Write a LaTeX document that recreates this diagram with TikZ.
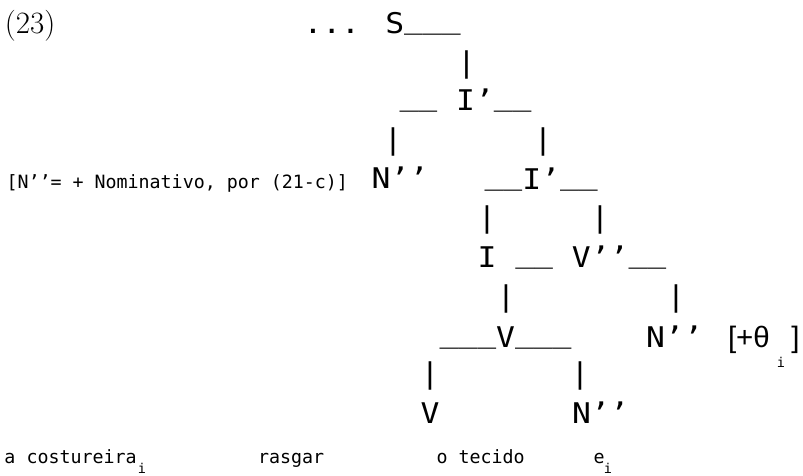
\documentclass[tikz,border=0pt]{standalone}
\usepackage{fontspec}
% Tree labels and branches: a wide monospaced face
\newfontfamily\treefont[FakeStretch=1.1]{DejaVu Sans Mono}
% Notes and the words of the sentence
\newfontfamily\notefont{DejaVu Sans Mono}
% Feature bracket
\newfontfamily\featfont{Liberation Sans}
% underscore branch piece, sitting just under the baseline
\newcommand\brn{\raisebox{4.5pt}{\_}}
\begin{document}
\begin{tikzpicture}[x=1pt,y=-1pt,
  cat/.style={font=\treefont\fontsize{28.5}{30}\selectfont, inner sep=0pt, outer sep=0pt, anchor=base west},
  bar/.style={cat, anchor=base},
  note/.style={font=\notefont\fontsize{18.3}{20}\selectfont, inner sep=0pt, outer sep=0pt, anchor=base west},
  sub/.style={font=\notefont\fontsize{13.5}{14}\selectfont, inner sep=0pt, outer sep=0pt, anchor=base},
  feat/.style={font=\featfont\fontsize{29.5}{30}\selectfont, inner sep=0pt, outer sep=0pt, anchor=base west},
  num/.style={font=\fontsize{31}{32}\selectfont, inner sep=0pt, outer sep=0pt, anchor=base west}]
\useasboundingbox (0,0) rectangle (803,475);

% example number
\node[num] (ex) at (5,33) {(23)};

% S and its branch
\node[cat] (s) at (303.5,33) {... S\brn\brn\brn};
\node[bar] (b1) at (466.5,72) {|};

% upper I'
\node[cat] (ip1) at (399.5,110) {\brn\brn{} I’\brn\brn};
\node[bar] (b2l) at (393,149) {|};
\node[bar] (b2r) at (543,149) {|};

% subject and lower I'
\node[note] (case) at (6.5,188) {[N’’= + Nominativo, por (21-c)]};
\node[cat] (np1) at (371.5,188) {N’’};
\node[cat] (ip2) at (484.5,189) {\brn\brn I’\brn\brn};
\node[bar] (b3l) at (487,227) {|};
\node[bar] (b3r) at (600,227) {|};

% I and V''
\node[cat] (iv) at (477.5,267) {I \brn\brn{} V’’\brn\brn};
\node[bar] (b4l) at (506,306) {|};
\node[bar] (b4r) at (676,306) {|};

% V node, object N'' and theta feature
\node[cat] (v1) at (439.5,347) {\brn\brn\brn V\brn\brn\brn};
\node[cat] (np2) at (646,347) {N’’};
\node[feat] (th) at (728,347) {[+θ};
\node[sub] (thi) at (781,367) {i};
\node[feat, anchor=base east] (thr) at (799.5,347) {]};
\node[bar] (b5l) at (430,383) {|};
\node[bar] (b5r) at (580,383) {|};

% leaves
\node[cat] (v0) at (420.5,423) {V};
\node[cat] (np3) at (572,423) {N’’};

% words
\node[note] (w1) at (4.5,463) {a costureira};
\node[sub] (w1i) at (142,473) {i};
\node[note] (w2) at (258,463) {rasgar};
\node[note] (w3) at (436.5,463) {o tecido};
\node[note] (w4) at (593.5,463) {e};
\node[sub] (w4i) at (608,473) {i};
\end{tikzpicture}
\end{document}
